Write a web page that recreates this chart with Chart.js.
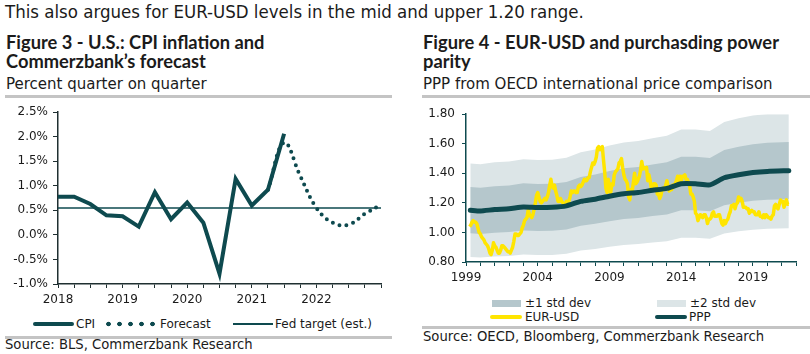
<!DOCTYPE html>
<html>
<head>
<meta charset="utf-8">
<script src="https://cdn.jsdelivr.net/npm/chart.js@4.4.0/dist/chart.umd.min.js"></script>
<style>
  body { margin: 0; background: #fff; }
  #page { position: relative; width: 810px; height: 354px; overflow: hidden; font-family: "DejaVu Sans", sans-serif; color: #1b1b1b; }
  .abs { position: absolute; white-space: nowrap; }
  .lead { left: 5px; top: 1px; font-family: "Liberation Sans Narrow", "DejaVu Sans Condensed", sans-serif; font-size: 18.5px; line-height: 21px; }
  .title { font-family: Lato, sans-serif; font-weight: bold; font-size: 18.3px; line-height: 19px; }
  .sub { font-size: 15px; line-height: 17px; }
  .rule { position: absolute; height: 3px; background: #c4c4c4; }
  .src { font-size: 13.2px; line-height: 16px; }
  .leg { font-size: 12px; line-height: 14px; }
  .sw { position: absolute; }
  canvas { position: absolute; }
</style>
</head>
<body>
<div id="page">
  <div class="abs lead">This also argues for EUR-USD levels in the mid and upper 1.20 range.</div>

  <div class="abs title" style="left:6px; top:33px;">Figure 3 - U.S.: CPI inflation and<br>Commerzbank’s forecast</div>
  <div class="abs sub" style="left:6px; top:76px;">Percent quarter on quarter</div>
  <div class="rule" style="left:5px; top:95px; width:387px;"></div>

  <div class="abs title" style="left:423px; top:33px;">Figure 4 - EUR-USD and purchasding power<br>parity</div>
  <div class="abs sub" style="left:423px; top:76px;">PPP from OECD international price comparison</div>
  <div class="rule" style="left:422px; top:95px; width:388px;"></div>

  <canvas id="cpi_chart" width="395" height="210" style="left:0; top:100px;"></canvas>
  <canvas id="ppp_chart" width="400" height="190" style="left:410px; top:100px;"></canvas>

  <!-- legend figure 3 -->
  <div class="sw" style="left:33px; top:322px; width:41px; height:4px; background:#0e4a4f; border-radius:2px;"></div>
  <div class="abs leg" style="left:76px; top:317px;">CPI</div>
  <div class="sw" style="left:103px; top:321px; width:55px; height:6px; background:radial-gradient(circle, #0e4a4f 2px, transparent 2.6px) 0 0 / 11px 6px repeat-x;"></div>
  <div class="abs leg" style="left:160px; top:317px;">Forecast</div>
  <div class="sw" style="left:233px; top:323px; width:40px; height:1.5px; background:#0e4a4f;"></div>
  <div class="abs leg" style="left:275px; top:317px;">Fed target (est.)</div>
  <div class="rule" style="left:5px; top:336px; width:387px;"></div>
  <div class="abs src" style="left:5px; top:337px;">Source: BLS, Commerzbank Research</div>

  <!-- legend figure 4 -->
  <div class="sw" style="left:492px; top:300px; width:29px; height:7px; background:#b5c7cc;"></div>
  <div class="abs leg" style="left:525px; top:296px;">±1 std dev</div>
  <div class="sw" style="left:657px; top:300px; width:29px; height:7px; background:#dce5e7;"></div>
  <div class="abs leg" style="left:690px; top:296px;">±2 std dev</div>
  <div class="sw" style="left:490px; top:315px; width:32px; height:4px; background:#ffe500; border-radius:2px;"></div>
  <div class="abs leg" style="left:525px; top:310px;">EUR-USD</div>
  <div class="sw" style="left:655px; top:315px; width:32px; height:4px; background:#0e4a4f; border-radius:2px;"></div>
  <div class="abs leg" style="left:689px; top:310px;">PPP</div>
  <div class="rule" style="left:422px; top:326px; width:388px;"></div>
  <div class="abs src" style="left:423px; top:329px;">Source: OECD, Bloomberg, Commerzbank Research</div>
</div>

<script>
// Figure 3 - quarterly CPI, percent q/q
var cpiStart = 2018;
var cpiValues = [0.78, 0.78, 0.63, 0.40, 0.38, 0.17, 0.87, 0.32, 0.66, 0.25, -0.79, 1.14, 0.60, 0.92, 2.06];
var forecastYears = [2021.25, 2021.5, 2021.75, 2022, 2022.25, 2022.5, 2022.75, 2022.95];
var forecastValues = [0.92, 1.88, 1.20, 0.55, 0.25, 0.21, 0.43, 0.58];
var fedTarget = 0.55;
var cpiYearLabels = [2018, 2019, 2020, 2021, 2022];

// Figure 4 - PPP and bands (yearly), EUR-USD (monthly from Apr 1999)
var bandYears = [1999.3, 2000, 2001, 2002, 2003, 2004, 2005, 2006, 2007, 2008, 2009, 2010, 2011,
                 2012, 2013, 2014, 2015, 2016, 2017, 2018, 2019, 2020, 2021.5];
var pppValues = [1.150, 1.145, 1.155, 1.160, 1.172, 1.168, 1.170, 1.180, 1.210, 1.225, 1.245, 1.262,
                 1.270, 1.285, 1.298, 1.330, 1.330, 1.322, 1.370, 1.390, 1.405, 1.413, 1.418];
var plusOne  = [1.308, 1.302, 1.313, 1.318, 1.333, 1.328, 1.330, 1.341, 1.375, 1.392, 1.415, 1.434,
                1.443, 1.460, 1.475, 1.512, 1.512, 1.503, 1.557, 1.580, 1.597, 1.606, 1.612];
var minusOne = [0.994, 0.990, 0.998, 1.003, 1.013, 1.010, 1.011, 1.020, 1.046, 1.059, 1.076, 1.091,
                1.098, 1.111, 1.122, 1.150, 1.150, 1.143, 1.184, 1.201, 1.214, 1.221, 1.225];
var plusTwo  = [1.467, 1.462, 1.475, 1.480, 1.495, 1.490, 1.492, 1.505, 1.543, 1.562, 1.588, 1.609,
                1.619, 1.638, 1.655, 1.696, 1.696, 1.686, 1.747, 1.772, 1.791, 1.801, 1.808];
var minusTwo = [0.833, 0.830, 0.837, 0.841, 0.850, 0.847, 0.848, 0.855, 0.877, 0.888, 0.903, 0.915,
                0.921, 0.932, 0.941, 0.964, 0.964, 0.958, 0.993, 1.008, 1.019, 1.025, 1.028];
var eurStart = 1999.25;
var eurUsd = [
  1.04, 1.05, 1.07, 1.08, 1.07, 1.07, 1.06, 1.03, 1.00,
  0.99, 0.97, 0.96, 0.95, 0.93, 0.92, 0.91, 0.89, 0.86, 0.85, 0.88, 0.93,
  0.91, 0.90, 0.88, 0.86, 0.86, 0.88, 0.91, 0.91, 0.90, 0.89, 0.88, 0.87,
  0.87, 0.86, 0.88, 0.90, 0.94, 0.99, 0.99, 0.98, 0.98, 0.99, 1.00, 1.03,
  1.05, 1.08, 1.09, 1.10, 1.15, 1.12, 1.11, 1.10, 1.12, 1.16, 1.20, 1.25,
  1.27, 1.24, 1.21, 1.20, 1.21, 1.22, 1.23, 1.22, 1.24, 1.27, 1.32, 1.36,
  1.31, 1.30, 1.32, 1.28, 1.25, 1.21, 1.21, 1.23, 1.21, 1.20, 1.19, 1.19,
  1.21, 1.20, 1.21, 1.24, 1.28, 1.27, 1.28, 1.28, 1.27, 1.27, 1.31, 1.32,
  1.31, 1.32, 1.34, 1.36, 1.35, 1.35, 1.37, 1.37, 1.41, 1.44, 1.47, 1.46,
  1.48, 1.51, 1.57, 1.58, 1.56, 1.57, 1.58, 1.49, 1.41, 1.30, 1.27, 1.36,
  1.30, 1.27, 1.33, 1.32, 1.39, 1.41, 1.42, 1.43, 1.47, 1.48, 1.50, 1.44,
  1.39, 1.36, 1.35, 1.33, 1.24, 1.22, 1.29, 1.28, 1.34, 1.40, 1.33, 1.34,
  1.36, 1.38, 1.42, 1.48, 1.43, 1.44, 1.43, 1.44, 1.35, 1.39, 1.35, 1.30,
  1.31, 1.33, 1.33, 1.32, 1.26, 1.26, 1.23, 1.25, 1.29, 1.30, 1.29, 1.32,
  1.35, 1.31, 1.28, 1.31, 1.29, 1.32, 1.31, 1.33, 1.35, 1.38, 1.35, 1.38,
  1.35, 1.38, 1.38, 1.39, 1.36, 1.36, 1.34, 1.32, 1.26, 1.26, 1.24, 1.21,
  1.13, 1.12, 1.08, 1.10, 1.12, 1.11, 1.10, 1.12, 1.12, 1.10, 1.06, 1.09,
  1.09, 1.10, 1.13, 1.14, 1.11, 1.11, 1.11, 1.12, 1.12, 1.09, 1.06, 1.05,
  1.08, 1.06, 1.08, 1.09, 1.12, 1.14, 1.18, 1.18, 1.19, 1.16, 1.19, 1.20,
  1.24, 1.22, 1.23, 1.21, 1.17, 1.17, 1.17, 1.16, 1.16, 1.13, 1.14, 1.15,
  1.14, 1.14, 1.12, 1.12, 1.12, 1.14, 1.11, 1.11, 1.10, 1.12, 1.10, 1.12,
  1.11, 1.10, 1.10, 1.09, 1.11, 1.12, 1.18, 1.19, 1.17, 1.16, 1.19, 1.22,
  1.21, 1.21, 1.17, 1.20, 1.22, 1.19, 1.19
];
var pppYearLabels = [1999, 2004, 2009, 2014, 2019];

const petrol = '#0e4a4f';
const yellow = '#ffe500';
const band1 = '#b5c7cc';
const band2 = '#dce5e7';
const axisColor = '#1f2f31';

Chart.defaults.font.family = '"DejaVu Sans", sans-serif';
Chart.defaults.font.size = 12;
Chart.defaults.color = '#1b1b1b';

function pts(xs, ys) {
    return ys.map(function (v, i) { return {x: xs[i], y: v}; });
}

// ---------- Figure 3 ----------
var cpiPoints = cpiValues.map(function (v, i) { return {x: cpiStart + i * 0.25, y: v}; });

var ctx = document.getElementById('cpi_chart').getContext('2d');
var cpiChart = new Chart(ctx, {
    type: 'line',
    data: {
        datasets: [{
            label: 'CPI',
            data: cpiPoints,
            borderColor: petrol,
            borderWidth: 4,
            pointRadius: 0,
            tension: 0,
            order: 1
        }, {
            label: 'Forecast',
            data: pts(forecastYears, forecastValues),
            borderColor: petrol,
            borderWidth: 4,
            borderDash: [0, 7],
            borderCapStyle: 'round',
            pointRadius: 0,
            tension: 0.4,
            order: 2
        }, {
            label: 'Fed target (est.)',
            data: [{x: 2018, y: fedTarget}, {x: 2023, y: fedTarget}],
            borderColor: petrol,
            borderWidth: 1.5,
            pointRadius: 0,
            order: 3
        }]
    },
    options: {
        responsive: false,
        animation: false,
        events: [],
        layout: { padding: { top: 10, right: 14, left: 0, bottom: 0 } },
        plugins: { legend: { display: false }, tooltip: { enabled: false } },
        scales: {
            x: {
                type: 'linear',
                min: 2018,
                max: 2023,
                afterFit: function (scale) { scale.height = 26; },
                ticks: {
                    stepSize: 0.25,
                    autoSkip: false,
                    maxRotation: 0,
                    padding: 5,
                    callback: function (v) {
                        var y = Math.round(v);
                        return (Math.abs(v - y) < 0.001 && cpiYearLabels.indexOf(y) >= 0) ? String(y) : '';
                    }
                },
                grid: { drawOnChartArea: false, tickLength: 4, tickColor: axisColor },
                border: { color: axisColor, width: 1.5 }
            },
            y: {
                min: -1,
                max: 2.5,
                afterFit: function (scale) { scale.width = 58; },
                ticks: {
                    stepSize: 0.5,
                    padding: 5,
                    callback: function (v) { return v.toFixed(1) + '%'; }
                },
                grid: { drawOnChartArea: false, tickLength: 5, tickColor: axisColor },
                border: { color: axisColor, width: 1.5 }
            }
        }
    }
});

// ---------- Figure 4 ----------
var eurPoints = eurUsd.map(function (v, i) { return {x: eurStart + i / 12, y: v}; });

var ctx_2 = document.getElementById('ppp_chart').getContext('2d');
var pppChart = new Chart(ctx_2, {
    type: 'line',
    data: {
        datasets: [{
            label: '+2 std dev',
            data: pts(bandYears, plusTwo),
            borderWidth: 0,
            pointRadius: 0,
            backgroundColor: band2,
            fill: 1,
            order: 10
        }, {
            label: '-2 std dev',
            data: pts(bandYears, minusTwo),
            borderWidth: 0,
            pointRadius: 0,
            fill: false,
            order: 10
        }, {
            label: '+1 std dev',
            data: pts(bandYears, plusOne),
            borderWidth: 0,
            pointRadius: 0,
            backgroundColor: band1,
            fill: 3,
            order: 5
        }, {
            label: '-1 std dev',
            data: pts(bandYears, minusOne),
            borderWidth: 0,
            pointRadius: 0,
            fill: false,
            order: 5
        }, {
            label: 'EUR-USD',
            data: eurPoints,
            borderColor: yellow,
            borderWidth: 3.5,
            borderJoinStyle: 'round',
            pointRadius: 0,
            tension: 0,
            order: 2
        }, {
            label: 'PPP',
            data: pts(bandYears, pppValues),
            borderColor: petrol,
            borderWidth: 5,
            borderCapStyle: 'round',
            pointRadius: 0,
            tension: 0.2,
            order: 1
        }]
    },
    options: {
        responsive: false,
        animation: false,
        events: [],
        layout: { padding: { top: 10, right: 14, left: 0, bottom: 0 } },
        plugins: { legend: { display: false }, tooltip: { enabled: false } },
        scales: {
            x: {
                type: 'linear',
                min: 1999,
                max: 2022,
                afterFit: function (scale) { scale.height = 28; },
                ticks: {
                    stepSize: 1,
                    autoSkip: false,
                    maxRotation: 0,
                    padding: 5,
                    callback: function (v) { return pppYearLabels.indexOf(v) >= 0 ? String(v) : ''; }
                },
                grid: { drawOnChartArea: false, tickLength: 4, tickColor: petrol },
                border: { color: petrol, width: 1.5 }
            },
            y: {
                min: 0.8,
                max: 1.8,
                afterFit: function (scale) { scale.width = 56; },
                ticks: {
                    stepSize: 0.2,
                    padding: 7,
                    callback: function (v) { return v.toFixed(2); }
                },
                grid: { drawOnChartArea: false, tickLength: 4, tickColor: petrol },
                border: { color: petrol, width: 1.5 }
            }
        }
    }
});
</script>
</body>
</html>
